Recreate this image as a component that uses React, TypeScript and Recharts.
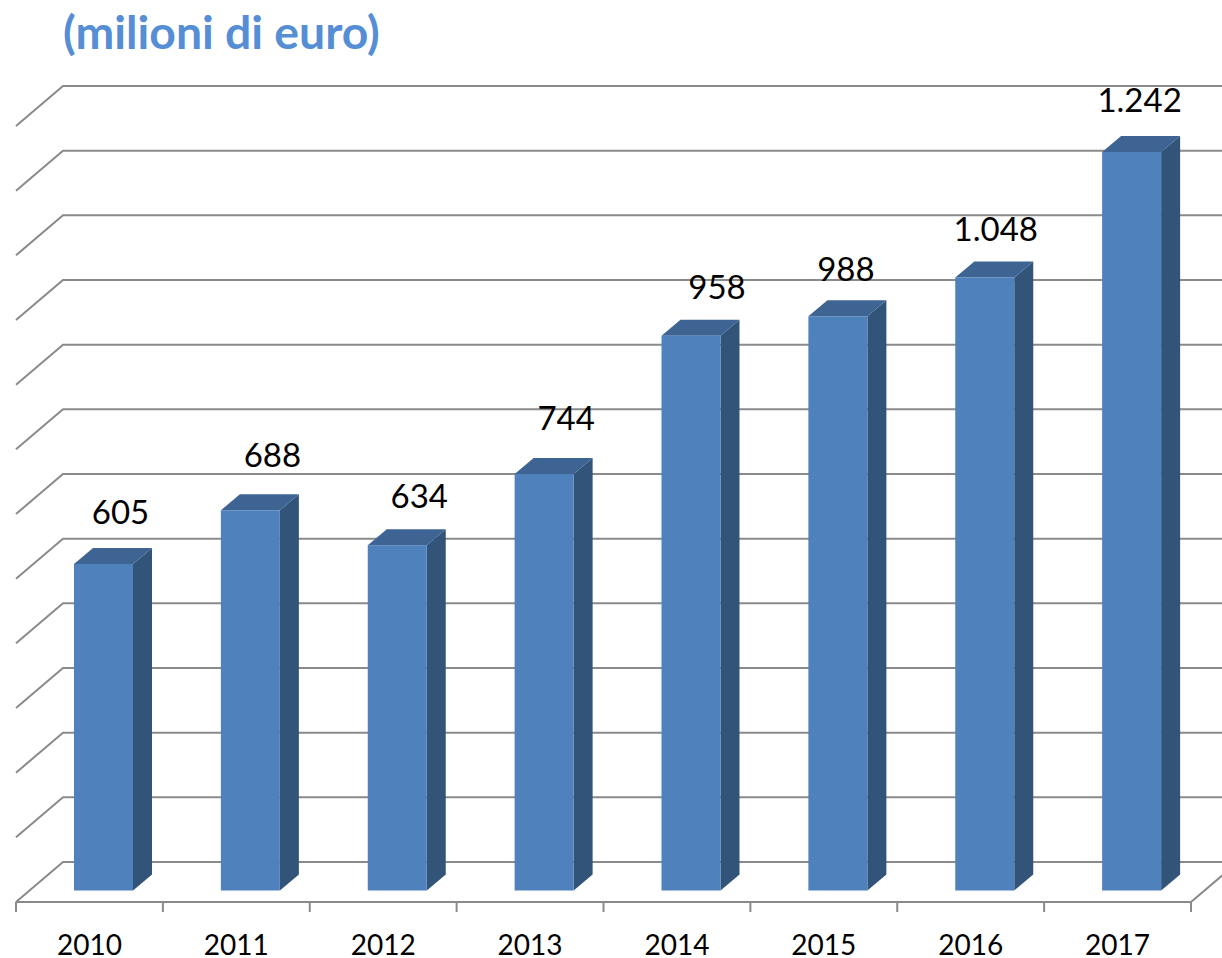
import { Bar, BarChart, CartesianGrid, LabelList, XAxis, YAxis } from "recharts";

const YEARS = ["2010", "2011", "2012", "2013", "2014", "2015", "2016", "2017"];
const VALUES = [605, 688, 634, 744, 958, 988, 1048, 1242];
const Y_TICKS = [100, 200, 300, 400, 500, 600, 700, 800, 900, 1000, 1100, 1200, 1300];
const EDGE_TICKS = [0, 1, 2, 3, 4, 5, 6, 7, 8];

// the labels were hand-placed in the original, so each one gets its own nudge
const LABEL_NUDGE_X = [17, 22, 22, 22, 26, 8, 11, 8];
const LABEL_NUDGE_Y = [53, 56, 50, 57, 50, 48, 49, 53];

const data = YEARS.map((year, i) => ({ year, slot: i, value: VALUES[i] }));

const FONT = "Lato, sans-serif";
const GRID_COLOR = "#8a8a8a";

// fake 3D: the axes sit on the front plane, bars and back wall are pushed back
const WALL_DX = 47;
const WALL_DY = -40;
const BAR_DX = 14;
const BAR_DY = -11.5;
const SIDE_DX = 19;
const SIDE_DY = -16;

const formatIt = (v: number) => String(v).replace(/\B(?=(\d{3})+$)/g, ".");

function GridLine(props: any) {
  const { x1, x2, y1, index } = props;
  const isFloor = Math.abs(y1 - 902) < 1;
  return (
    <g key={index} stroke={GRID_COLOR} strokeWidth={2} fill="none">
      <polyline points={`${x1},${y1} ${x1 + WALL_DX},${y1 + WALL_DY} ${x2 + WALL_DX},${y1 + WALL_DY}`} />
      {isFloor && <line x1={x2} y1={y1} x2={x2 + WALL_DX} y2={y1 + WALL_DY} />}
    </g>
  );
}

function Bar3D(props: any) {
  const { x, y, width, height } = props;
  const left = x + BAR_DX;
  const right = left + width;
  const top = y + BAR_DY;
  const bottom = top + height;
  return (
    <g>
      <polygon
        points={`${right},${top} ${right + SIDE_DX},${top + SIDE_DY} ${right + SIDE_DX},${bottom + SIDE_DY} ${right},${bottom}`}
        fill="#325479"
      />
      <polygon
        points={`${left},${top} ${left + SIDE_DX},${top + SIDE_DY} ${right + SIDE_DX},${top + SIDE_DY} ${right},${top}`}
        fill="#3e6494"
      />
      <rect x={left} y={top} width={width} height={height} fill="#4f81bd" />
    </g>
  );
}

function ValueLabel(props: any) {
  const { x, y, width, value, index } = props;
  return (
    <text
      x={x + BAR_DX + width / 2 + LABEL_NUDGE_X[index]}
      y={y + BAR_DY - LABEL_NUDGE_Y[index]}
      textAnchor="middle"
      dominantBaseline="central"
      fontFamily={FONT}
      fontSize={33}
      fill="#000"
    >
      {formatIt(value)}
    </text>
  );
}

export default function App() {
  return (
    <div style={{ position: "absolute", left: 0, top: 0, width: 1222, height: 958, background: "#fff" }}>
      <div
        style={{
          position: "absolute",
          left: 63,
          top: 6,
          fontFamily: FONT,
          fontWeight: 700,
          fontSize: 46.3,
          lineHeight: "50px",
          color: "#558ed5",
          whiteSpace: "nowrap",
        }}
      >
        (milioni di euro)
      </div>
      <BarChart
        width={1222}
        height={958}
        data={data}
        margin={{ top: 126, right: 31, bottom: 0, left: 16 }}
        style={{ position: "absolute", left: 0, top: 0 }}
      >
        <CartesianGrid horizontal={GridLine} vertical={false} />
        {/* second axis only carries the tick marks between the categories */}
        <XAxis
          dataKey="slot"
          type="number"
          domain={[0, 8]}
          ticks={EDGE_TICKS}
          tick={() => <g />}
          tickSize={10}
          height={10}
          stroke={GRID_COLOR}
          strokeWidth={2}
          allowDataOverflow
        />
        <XAxis
          xAxisId="years"
          dataKey="year"
          axisLine={false}
          tickLine={false}
          height={46}
          tickMargin={17}
          tick={{ fontFamily: FONT, fontSize: 28, fill: "#000" }}
        />
        <YAxis hide domain={[100, 1300]} ticks={Y_TICKS} allowDataOverflow />
        <Bar xAxisId="years" dataKey="value" barSize={59} shape={Bar3D} isAnimationActive={false}>
          <LabelList dataKey="value" content={ValueLabel} />
        </Bar>
      </BarChart>
    </div>
  );
}
